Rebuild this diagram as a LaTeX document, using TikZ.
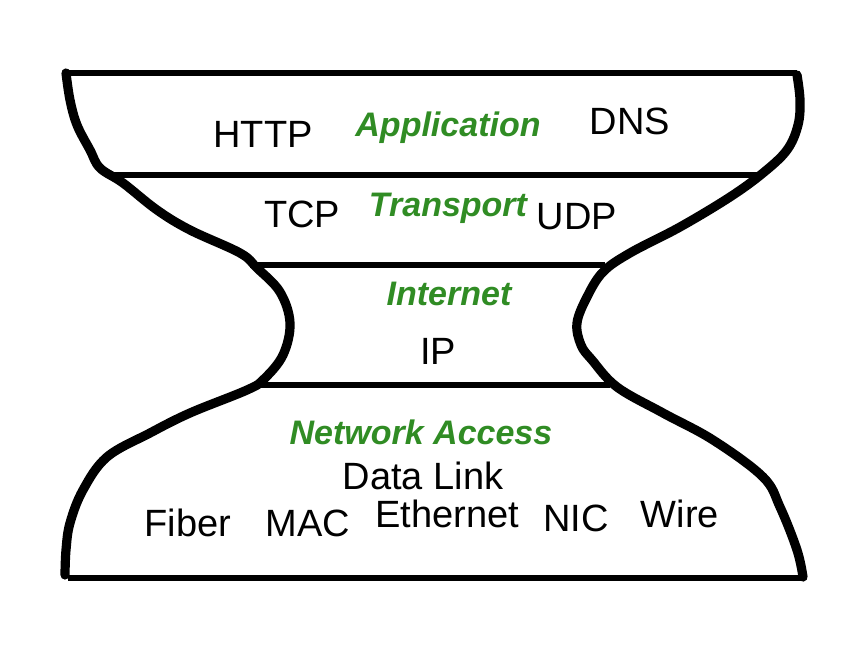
\documentclass[tikz,border=0pt]{standalone}
\usepackage{fontspec}
\setmainfont{Liberation Sans}
\usepackage{tikz}
\definecolor{layergreen}{RGB}{48,140,36}
\tikzset{
	rule/.style={line width=2.6pt},
	rim/.style={line width=4.6pt, line cap=round, line join=round},
	proto/.style={anchor=base, inner sep=0pt, font=\fontsize{19}{22}\selectfont},
	layername/.style={anchor=base, inner sep=0pt, text=layergreen, font=\fontsize{17}{20}\selectfont\bfseries\itshape}
}
\begin{document}
\begin{tikzpicture}[x=0.5pt, y=-0.5pt]
		\useasboundingbox[fill=white] (0,0) rectangle (856,656);
		\coordinate (T1) at (66,73);
		\coordinate (T2) at (797,73);
		\coordinate (A1) at (108,175);
		\coordinate (A2) at (762,175);
		\coordinate (B1) at (250,265);
		\coordinate (B2) at (605,265);
		\coordinate (C1) at (256,385);
		\coordinate (C2) at (610,385);
		\coordinate (D1) at (68,578);
		\coordinate (D2) at (805,578);
		\draw[rule] (T1) -- (T2);
		\draw[rule] (A1) -- (A2);
		\draw[rule] (B1) -- (B2);
		\draw[rule] (C1) -- (C2);
		\draw[rule] (D1) -- (D2);
		\draw[rim] plot[smooth, tension=0.6] coordinates {(66,73) (70,100) (77,125) (90,150) (100,168) (123,183) (157,210) (190,230) (240,253) (257,268) (280,292) (290,323) (283,355) (264,379) (247,390) (190,413) (150,433) (107,457) (83,490) (70,523) (66,550) (65,575)};
		\draw[rim] plot[smooth, tension=0.6] coordinates {(797,75) (800,100) (798,125) (787,150) (763,173) (730,197) (680,227) (630,253) (603,272) (587,297) (577,323) (581,345) (592,360) (617,387) (663,413) (713,440) (763,477) (780,507) (797,550) (803,577)};
		\node[layername] (app) at (448,137) {Application};
		\node[proto] (http) at (263,148) {HTTP};
		\node[proto] (dns) at (630,135) {DNS};
		\node[layername] (trans) at (448,217) {Transport};
		\node[proto] (tcp) at (302,228) {TCP};
		\node[proto] (udp) at (577,230) {UDP};
		\node[layername] (inet) at (449,306) {Internet};
		\node[proto] (ip) at (438,365) {IP};
		\node[layername] (netacc) at (421,445) {Network Access};
		\node[proto] (dlink) at (423,490) {Data Link};
		\node[proto] (fiber) at (188,537) {Fiber};
		\node[proto] (mac) at (308,537) {MAC};
		\node[proto] (eth) at (447,528) {Ethernet};
		\node[proto] (nic) at (576,532) {NIC};
		\node[proto] (wire) at (680,528) {Wire};
		\end{tikzpicture}
\end{document}
